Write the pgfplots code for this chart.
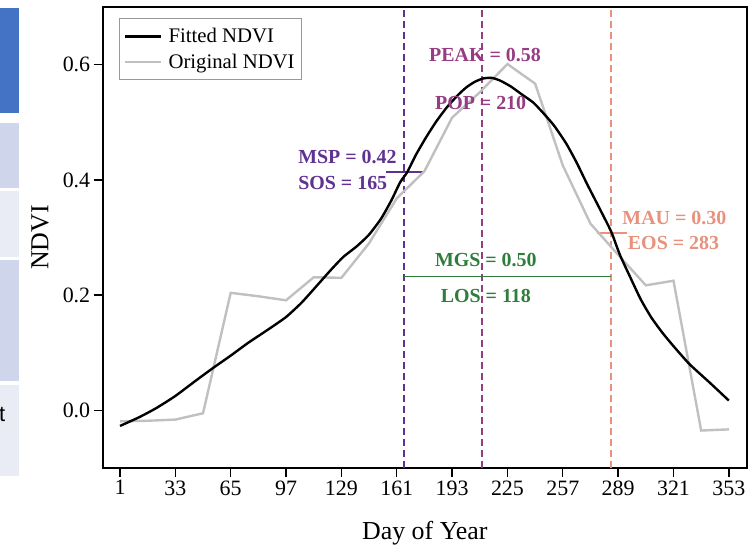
\documentclass[border=0pt]{standalone}
\usepackage{fontspec}
\setmainfont{Liberation Serif}
\setsansfont{Liberation Sans}
\usepackage{pgfplots}
\pgfplotsset{compat=1.18}

\definecolor{sosc}{RGB}{95,50,145}
\definecolor{popc}{RGB}{150,60,130}
\definecolor{eosc}{RGB}{232,145,125}
\definecolor{mgsc}{RGB}{46,125,60}
\definecolor{origc}{RGB}{192,192,192}
\definecolor{boxa}{RGB}{68,114,196}
\definecolor{boxb}{RGB}{207,213,234}
\definecolor{boxc}{RGB}{233,235,245}

\pgfplotstableread{
day ndvi
1   -0.019
17  -0.018
33  -0.016
49  -0.005
65  0.204
81  0.198
97  0.191
113 0.231
129 0.230
145 0.290
161 0.368
177 0.415
193 0.508
209 0.552
225 0.601
241 0.567
257 0.425
273 0.324
289 0.270
305 0.217
321 0.225
337 -0.035
353 -0.033
}\original

\pgfplotstableread{
day ndvi
1   -0.027
12  -0.012
22  0.004
33  0.025
45  0.052
55  0.074
65  0.095
75  0.117
86  0.139
97  0.162
106 0.187
115 0.217
123 0.244
130 0.266
138 0.285
145 0.305
152 0.333
158 0.365
163 0.396
167 0.413
172 0.443
178 0.474
184 0.502
190 0.526
196 0.546
201 0.560
206 0.570
211 0.576
216 0.577
221 0.572
227 0.562
233 0.549
240 0.534
246 0.515
252 0.494
259 0.463
265 0.430
271 0.393
278 0.352
285 0.310
290 0.270
296 0.231
302 0.193
308 0.162
314 0.137
320 0.115
330 0.081
342 0.048
353 0.017
}\fitted

\begin{document}
\begin{tikzpicture}
\useasboundingbox (0bp,0bp) rectangle (751bp,549bp);
% cropped table at the left edge
\fill[boxa] (0bp,436bp) rectangle (19bp,541bp);
\fill[boxb] (0bp,361bp) rectangle (19bp,426bp);
\fill[boxc] (0bp,292bp) rectangle (19bp,358bp);
\fill[boxb] (0bp,168bp) rectangle (19bp,289bp);
\fill[boxc] (0bp,73bp) rectangle (19bp,164bp);
\node[anchor=west, inner sep=0pt, font=\sffamily\fontsize{22}{26}\selectfont] at (-1bp,134bp) {t};

\begin{axis}[
  at={(102.7bp,81bp)}, anchor=south west,
  scale only axis, width=644.3bp, height=461bp,
  xmin=-9, xmax=363.5, ymin=-0.1, ymax=0.7,
  xtick={1,33,...,353},
  ytick={0,0.2,0.4,0.6},
  xtick pos=bottom, ytick pos=left,
  tick align=outside,
  major tick length=9bp,
  tick style={line width=1.4bp, black},
  axis line style={line width=1.8bp},
  /pgf/number format/assume math mode=true,
  yticklabel style={/pgf/number format/.cd, fixed, fixed zerofill, precision=1},
  ticklabel style={font=\fontsize{22}{26}\selectfont},
  label style={font=\fontsize{26}{30}\selectfont},
  xlabel={Day of Year}, ylabel={NDVI},
  xlabel style={at={(axis description cs:0.5,-0.141)}, anchor=center},
  ylabel style={at={(axis description cs:-0.0973,0.5)}, anchor=center},
  legend style={at={(0.025,0.976)}, anchor=north west, draw=gray!80,
    line width=0.8bp, font=\fontsize{20.8}{24}\selectfont,
    inner xsep=5bp, inner ysep=8bp, row sep=5.5bp},
  legend cell align=left,
  legend image code/.code={\draw[#1] (0bp,0bp) -- (36bp,0bp); \path (40bp,0bp);},
  reverse legend,
  clip=false,
]
% phenology markers
\addplot[sosc, line width=1.8bp, dash pattern=on 7bp off 4bp, forget plot] coordinates {(165,-0.1) (165,0.7)};
\addplot[popc, line width=1.8bp, dash pattern=on 7bp off 4bp, forget plot] coordinates {(210.5,-0.1) (210.5,0.7)};
\addplot[eosc, line width=1.8bp, dash pattern=on 7bp off 4bp, forget plot] coordinates {(285,-0.1) (285,0.7)};
\addplot[mgsc, line width=1.6bp, forget plot] coordinates {(165,0.232) (285,0.232)};
\addplot[sosc, line width=1.6bp, forget plot] coordinates {(155,0.414) (176,0.414)};
\addplot[eosc, line width=1.6bp, forget plot] coordinates {(277,0.308) (294,0.308)};

\addplot[origc, line width=2.4bp] table[x=day, y=ndvi] {\original};
\addlegendentry{Original NDVI}
\addplot[black, line width=2.4bp, smooth, tension=0.35] table[x=day, y=ndvi] {\fitted};
\addlegendentry{Fitted NDVI}

\begin{scope}[every node/.style={font=\bfseries\fontsize{20}{24}\selectfont, inner sep=0pt}]
\node[sosc, anchor=west] at (axis cs:104,0.439) {MSP = 0.42};
\node[sosc, anchor=west] at (axis cs:104,0.394) {SOS = 165};
\node[popc] at (axis cs:212,0.616) {PEAK = 0.58};
\node[popc] at (axis cs:209.5,0.533) {POP = 210};
\node[mgsc] at (axis cs:212.5,0.261) {MGS = 0.50};
\node[mgsc] at (axis cs:212.5,0.198) {LOS = 118};
\node[eosc] at (axis cs:321.5,0.333) {MAU = 0.30};
\node[eosc] at (axis cs:321,0.290) {EOS = 283};
\end{scope}
\end{axis}
\end{tikzpicture}
\end{document}
